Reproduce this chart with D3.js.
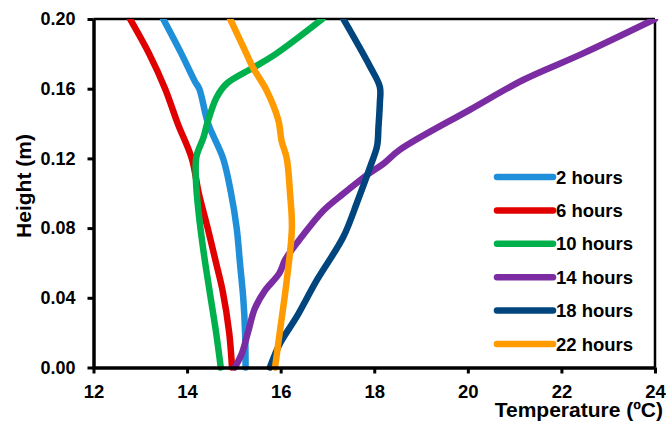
<!DOCTYPE html>
<html>
<head>
<meta charset="utf-8">
<script src="https://cdn.jsdelivr.net/npm/d3@7"></script>
<style>
  body { margin: 0; background: #fff; }
  svg { font-family: Arial, "Liberation Sans", sans-serif; font-weight: bold; }
</style>
</head>
<body>
<div id="container"></div>
<script>
// Series names and colours
const seriesNames = ['2 hours', '6 hours', '10 hours', '14 hours', '18 hours', '22 hours'];
const seriesColors = ['#1f8fd9', '#e00000', '#00b04c', '#7b2ca3', '#00457d', '#ff9a00'];

// [temperature (ºC), height (m)]
const hours2 = [[15.25, 0], [15.24, 0.02], [15.2, 0.04], [15.13, 0.06], [15.06, 0.08], [14.94, 0.10],
  [14.77, 0.12], [14.45, 0.14], [14.26, 0.16], [14.17, 0.164], [13.88, 0.18], [13.49, 0.20]];
const hours6 = [[14.96, 0], [14.9, 0.02], [14.76, 0.044], [14.62, 0.06], [14.44, 0.08], [14.25, 0.10],
  [14.1, 0.12], [13.8, 0.14], [13.53, 0.16], [13.19, 0.18], [12.78, 0.20]];
const hours10 = [[14.72, 0], [14.62, 0.02], [14.48, 0.044], [14.36, 0.065], [14.25, 0.088], [14.19, 0.107],
  [14.2, 0.121], [14.35, 0.132], [14.43, 0.14], [14.63, 0.155], [14.85, 0.163], [15.41, 0.172],
  [15.9, 0.18], [16.89, 0.20]];
const hours14 = [[15.02, 0], [15.17, 0.008], [15.3, 0.02], [15.45, 0.034], [15.66, 0.044], [15.97, 0.054],
  [16.1, 0.062], [16.45, 0.075], [16.91, 0.09], [17.35, 0.10], [17.87, 0.111], [18.2, 0.117],
  [18.55, 0.125], [20.05, 0.148], [21.18, 0.165], [22.44, 0.18], [24.0, 0.20]];
const hours18 = [[15.77, 0], [15.99, 0.014], [16.34, 0.029], [16.77, 0.05], [17.34, 0.075], [17.65, 0.096],
  [17.91, 0.115], [18.06, 0.127], [18.09, 0.138], [18.12, 0.152], [18.12, 0.161], [17.91, 0.1727],
  [17.34, 0.20]];
const hours22 = [[15.88, 0], [15.98, 0.02], [16.13, 0.05], [16.24, 0.08], [16.2, 0.10], [16.13, 0.12],
  [16.02, 0.13], [15.95, 0.142], [15.7, 0.159], [15.41, 0.172], [15.27, 0.18], [14.92, 0.20]];
const seriesValues = [hours2, hours6, hours10, hours14, hours18, hours22];

// Tick labels
const xTicks = [12, 14, 16, 18, 20, 22, 24];
const yTicks = [0, 0.04, 0.08, 0.12, 0.16, 0.20];

const W = 666, H = 424;
const plotLeft = 93.5, plotRight = 655, plotTop = 19, plotBottom = 367.5;

const svg = d3.select('#container').append('svg')
  .attr('width', W).attr('height', H);

const x = d3.scaleLinear().domain([12, 24]).range([plotLeft, plotRight]);
const y = d3.scaleLinear().domain([0, 0.20]).range([plotBottom, plotTop]);

// clip the tops of the curves at the frame
svg.append('clipPath').attr('id', 'clip')
  .append('rect').attr('x', 0).attr('y', plotTop).attr('width', W).attr('height', H);

// top and right frame lines
svg.append('line').attr('x1', plotLeft).attr('x2', plotRight).attr('y1', plotTop).attr('y2', plotTop)
  .attr('stroke', '#000').attr('stroke-width', 2.5);
svg.append('line').attr('x1', plotRight).attr('x2', plotRight).attr('y1', plotTop).attr('y2', plotBottom)
  .attr('stroke', '#000').attr('stroke-width', 2.5);

// curves
const line = d3.line()
  .x(d => x(d[0]))
  .y(d => y(d[1]))
  .curve(d3.curveCatmullRom.alpha(0.5));

svg.append('g').attr('clip-path', 'url(#clip)')
  .selectAll('path')
  .data(seriesValues)
  .join('path')
  .attr('d', line)
  .attr('fill', 'none')
  .attr('stroke', (d, i) => seriesColors[i])
  .attr('stroke-width', 6.5)
  .attr('stroke-linecap', 'round')
  .attr('stroke-linejoin', 'round');

// axes
const xAxis = svg.append('g')
  .attr('transform', `translate(0,${plotBottom})`)
  .call(d3.axisBottom(x).tickValues(xTicks).tickSize(6).tickSizeOuter(0).tickPadding(11));
const yAxis = svg.append('g')
  .attr('transform', `translate(${plotLeft},0)`)
  .call(d3.axisLeft(y).tickValues(yTicks).tickFormat(d3.format('.2f')).tickSize(6).tickSizeOuter(0).tickPadding(12));

[xAxis, yAxis].forEach(g => {
  g.select('.domain').attr('stroke', '#000').attr('stroke-width', 3.5);
  g.selectAll('.tick line').attr('stroke', '#000').attr('stroke-width', 3);
  g.selectAll('.tick text').attr('fill', '#000')
    .style('font-family', 'Arial, "Liberation Sans", sans-serif').style('font-weight', 'bold');
});
xAxis.selectAll('.tick text').style('font-size', '18.5px');
yAxis.selectAll('.tick text').style('font-size', '18px');

// axis titles
svg.append('text')
  .attr('x', 663).attr('y', 417)
  .attr('text-anchor', 'end')
  .style('font-size', '21px')
  .text('Temperature (ºC)');

svg.append('text')
  .attr('transform', 'translate(31,186) rotate(-90)')
  .attr('text-anchor', 'middle')
  .style('font-size', '21px')
  .text('Height (m)');

// legend
const legend = svg.append('g')
  .selectAll('g')
  .data(seriesNames)
  .join('g')
  .attr('transform', (d, i) => `translate(497,${177 + i * 33.4})`);

legend.append('line')
  .attr('x1', 0).attr('x2', 56)
  .attr('stroke', (d, i) => seriesColors[i])
  .attr('stroke-width', 6.5)
  .attr('stroke-linecap', 'round');

legend.append('text')
  .attr('x', 59).attr('y', 0).attr('dy', '0.36em')
  .style('font-size', '18.5px')
  .text(d => d);
</script>
</body>
</html>
